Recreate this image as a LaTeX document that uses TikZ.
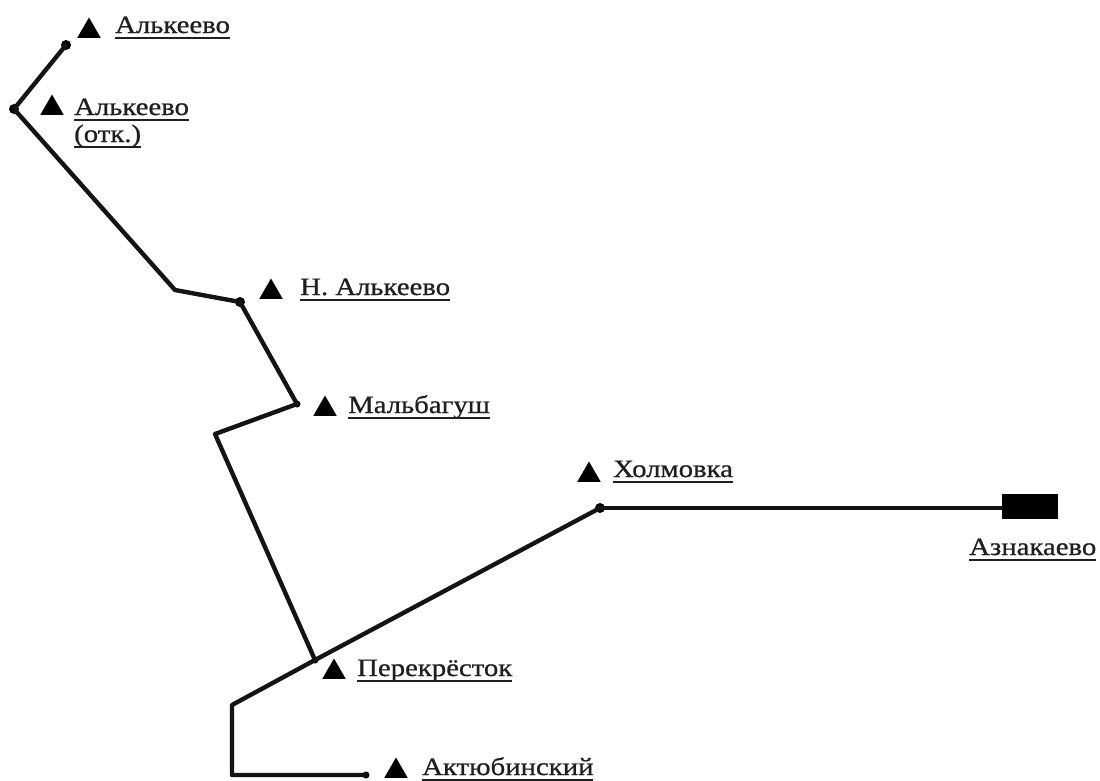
\documentclass[tikz,border=0pt]{standalone}
\usepackage{fontspec}
\setmainfont[FakeStretch=1.15, FakeBold=0.8]{Liberation Serif}
\usetikzlibrary{shapes.geometric}
\newcommand\stul[1]{\setbox0=\hbox{#1}\rlap{\raisebox{-6pt}{\rule{\wd0}{2pt}}}\box0}
\tikzset{
  road/.style={line width=4.4pt, line join=round, line cap=round, black!92},
  dot/.style={circle, fill=black, inner sep=0pt, minimum size=10pt},
  smalldot/.style={circle, fill=black, inner sep=0pt, minimum size=7pt},
  tri/.style={regular polygon, regular polygon sides=3, fill=black, inner sep=0pt, minimum size=27pt},
  lbl/.style={anchor=base west, inner sep=0pt, text=black!88, font=\fontsize{25}{27}\selectfont},
}
\begin{document}
\begin{tikzpicture}[x=1pt, y=-1pt]
\useasboundingbox (0,0) rectangle (1100,780);
% vertices
\node[dot] (a1) at (66,45) {};
\node[dot] (a2) at (14,109) {};
\coordinate (b1) at (175,290);
\node[dot] (n) at (240,302) {};
\node[smalldot] (m) at (297,404) {};
\coordinate (b2) at (215,434);
\node[smalldot] (p) at (315,660) {};
\coordinate (b3) at (232,705);
\coordinate (b4) at (232,775);
\node[smalldot] (e) at (366,775) {};
\node[dot] (k) at (600,508) {};
\node[fill=black, inner sep=0pt, minimum width=56pt, minimum height=25pt] (az) at (1030,506) {};
% roads
\draw[road] (a1.center) -- (a2.center) -- (b1) -- (n.center) -- (m.center) -- (b2) -- (p.center);
\draw[road] (k.center) -- (p.center) -- (b3) -- (b4) -- (e.center);
\draw[road, line width=3.6pt] (k.center) -- (k.center -| az.west);
% triangles
\node[tri] (t1) at (89,31) {};
\node[tri] (t2) at (52,108) {};
\node[tri] (t3) at (271,292) {};
\node[tri] (t4) at (325,409) {};
\node[tri] (t5) at (334,672) {};
\node[tri] (t6) at (396,771) {};
\node[tri] (t7) at (589,475) {};
% labels
\node[lbl] (l1) at (115,33) {\stul{Алькеево}};
\node[lbl] (l2) at (74,115) {\begin{tabular}[t]{@{}l@{}}\stul{Алькеево}\\\stul{(отк.)}\end{tabular}};
\node[lbl] (l3) at (300,295) {\stul{Н. Алькеево}};
\node[lbl] (l4) at (348,413) {\stul{Мальбагуш}};
\node[lbl] (l5) at (357,676) {\stul{Перекрёсток}};
\node[lbl] (l6) at (422,775) {\stul{Актюбинский}};
\node[lbl] (l7) at (613,477) {\stul{Холмовка}};
\node[lbl] (l8) at (969,555) {\stul{Азнакаево}};
\end{tikzpicture}
\end{document}
